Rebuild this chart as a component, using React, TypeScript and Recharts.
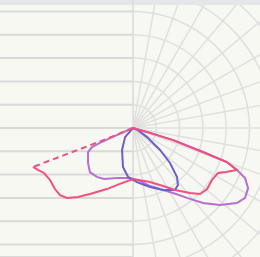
import {
  LineChart,
  Line,
  XAxis,
  YAxis,
  CartesianGrid,
  ReferenceLine,
  RadarChart,
  PolarGrid,
} from "recharts";

// curve points in grid-ring units, center of the diagram = (0, 0)
const pinkSolid = [
  { x: -4.29, y: -1.67 },
  { x: -4.08, y: -1.8 },
  { x: -3.82, y: -1.93 },
  { x: -3.56, y: -2.23 },
  { x: -3.35, y: -2.62 },
  { x: -3.13, y: -2.88 },
  { x: -2.83, y: -3.0 },
  { x: -2.36, y: -2.96 },
  { x: -1.85, y: -2.83 },
  { x: -1.12, y: -2.62 },
  { x: -0.56, y: -2.4 },
  { x: 0, y: -2.19 },
  { x: 0.73, y: -2.32 },
  { x: 1.29, y: -2.49 },
  { x: 1.8, y: -2.66 },
  { x: 2.45, y: -2.79 },
  { x: 2.88, y: -2.83 },
  { x: 3.18, y: -2.62 },
  { x: 3.39, y: -2.23 },
  { x: 3.65, y: -1.93 },
  { x: 3.99, y: -1.89 },
  { x: 4.46, y: -1.8 },
  { x: 4.03, y: -1.46 },
  { x: 3.0, y: -1.03 },
  { x: 1.72, y: -0.52 },
  { x: 0.73, y: -0.21 },
  { x: 0, y: 0 },
];

const pinkDashed = [
  { x: 0, y: 0 },
  { x: -1.42, y: -0.58 },
  { x: -4.29, y: -1.67 },
];

const purple = [
  { x: 0, y: 0 },
  { x: 0.73, y: -0.21 },
  { x: 1.72, y: -0.52 },
  { x: 3.0, y: -1.03 },
  { x: 4.03, y: -1.46 },
  { x: 4.46, y: -1.8 },
  { x: 4.81, y: -2.15 },
  { x: 4.94, y: -2.58 },
  { x: 4.81, y: -3.0 },
  { x: 4.46, y: -3.22 },
  { x: 3.73, y: -3.3 },
  { x: 3.0, y: -3.22 },
  { x: 2.32, y: -3.0 },
  { x: 1.72, y: -2.79 },
  { x: 1.16, y: -2.62 },
  { x: 0.73, y: -2.49 },
  { x: 0.3, y: -2.27 },
  { x: -0.13, y: -2.15 },
  { x: -0.69, y: -2.15 },
  { x: -1.24, y: -2.19 },
  { x: -1.55, y: -2.1 },
  { x: -1.85, y: -1.89 },
  { x: -1.93, y: -1.5 },
  { x: -1.93, y: -1.03 },
  { x: -1.76, y: -0.82 },
  { x: -1.42, y: -0.64 },
  { x: -0.77, y: -0.34 },
  { x: 0, y: 0 },
];

const blue = [
  { x: 0, y: 0 },
  { x: -0.34, y: -0.39 },
  { x: -0.47, y: -0.94 },
  { x: -0.43, y: -1.67 },
  { x: -0.21, y: -2.1 },
  { x: 0.17, y: -2.32 },
  { x: 0.73, y: -2.53 },
  { x: 1.29, y: -2.66 },
  { x: 1.8, y: -2.66 },
  { x: 1.93, y: -2.45 },
  { x: 1.89, y: -2.1 },
  { x: 1.59, y: -1.5 },
  { x: 1.16, y: -0.94 },
  { x: 0.6, y: -0.39 },
  { x: 0.21, y: -0.09 },
  { x: 0, y: 0 },
];

const rowTicks = [-5, -4, -3, -2, -1, 0, 1, 2, 3, 4, 5];
const ringRadii = [23.3, 46.6, 69.9, 93.2, 116.5, 139.8, 163.1, 186.4];
const spokeAngles = Array.from({ length: 36 }, (_, i) => i * 10);

const W = 260;
const H = 257;
const xDomain = [-5.708, 5.451];
const yDomain = [-5.536, 5.494];

export default function App() {
  return (
    <div
      style={{
        position: "fixed",
        left: 0,
        top: 0,
        width: W,
        height: H,
        background: "#f8f8f2",
        overflow: "hidden",
      }}
    >
      {/* ruled lines, left half */}
      <div style={{ position: "absolute", left: 0, top: 0, width: 133, height: H, overflow: "hidden" }}>
        <LineChart width={W} height={H} margin={{ top: 0, right: 0, bottom: 0, left: 0 }}>
          <XAxis type="number" dataKey="x" domain={xDomain} allowDataOverflow hide />
          <YAxis type="number" domain={yDomain} ticks={rowTicks} allowDataOverflow hide />
          <CartesianGrid vertical={false} stroke="#d9d9d9" strokeWidth={2} />
        </LineChart>
      </div>

      {/* polar grid, right half */}
      <div style={{ position: "absolute", left: 133, top: 0, width: W - 133, height: H, overflow: "hidden" }}>
        <div style={{ position: "absolute", left: -133, top: 0 }}>
          <RadarChart
            width={W}
            height={H}
            cx={133}
            cy={128}
            outerRadius={186.4}
            margin={{ top: 0, right: 0, bottom: 0, left: 0 }}
            data={[{}]}
          >
            <PolarGrid
              gridType="circle"
              polarRadius={ringRadii}
              polarAngles={spokeAngles}
              stroke="#dfdfdf"
              strokeWidth={1.5}
            />
          </RadarChart>
        </div>
      </div>

      <div style={{ position: "absolute", left: 0, top: 0, width: W, height: 5, background: "#e5e6e9" }} />

      {/* curves */}
      <div style={{ position: "absolute", left: 0, top: 0 }}>
        <LineChart width={W} height={H} margin={{ top: 0, right: 0, bottom: 0, left: 0 }}>
          <XAxis type="number" dataKey="x" domain={xDomain} allowDataOverflow hide />
          <YAxis type="number" dataKey="y" domain={yDomain} allowDataOverflow hide />
          <ReferenceLine x={0} stroke="#dcdcdc" strokeWidth={1.5} />
          <Line
            data={purple}
            dataKey="y"
            stroke="#b56fd3"
            strokeWidth={2}
            dot={false}
            activeDot={false}
            isAnimationActive={false}
          />
          <Line
            data={blue}
            dataKey="y"
            stroke="#6c5fcc"
            strokeWidth={2}
            dot={false}
            activeDot={false}
            isAnimationActive={false}
          />
          <Line
            data={pinkDashed}
            dataKey="y"
            stroke="#f0507f"
            strokeWidth={2}
            strokeDasharray="6 4"
            dot={false}
            activeDot={false}
            isAnimationActive={false}
          />
          <Line
            data={pinkSolid}
            dataKey="y"
            stroke="#f0507f"
            strokeWidth={2}
            dot={false}
            activeDot={false}
            isAnimationActive={false}
          />
        </LineChart>
      </div>
    </div>
  );
}
